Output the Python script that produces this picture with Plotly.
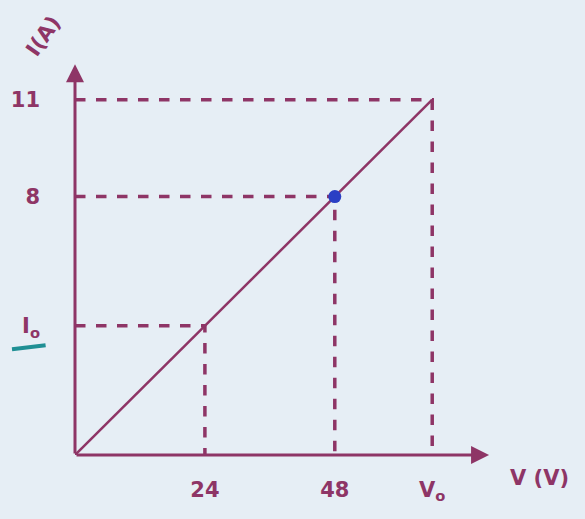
import plotly.graph_objects as go

# Linear I–V characteristic (ohmic conductor)
voltage = [0, 24, 48, 66]          # V
current = [0, 4, 8, 11]            # A
x_ticks = [24, 48, 66]
x_labels = ["<b>24</b>", "<b>48</b>", "<b>V<sub>o</sub></b>"]
y_ticks = [4, 8, 11]
y_labels = ["<b>I<sub>o</sub></b>", "<b>8</b>", "<b>11</b>"]
marked_v, marked_i = 48, 8

ink = "#8e3566"
bg = "#e6eef5"
font = dict(family="DejaVu Sans", size=21, color=ink)

fig = go.Figure()

# dashed guides from each labelled point to the axes
for v, i in zip(voltage[1:], current[1:]):
    fig.add_trace(go.Scatter(x=[0, v, v], y=[i, i, 0], mode="lines",
                             line=dict(color=ink, width=3.5, dash="dash"),
                             hoverinfo="skip", showlegend=False))

# the characteristic line
fig.add_trace(go.Scatter(x=voltage, y=current, mode="lines",
                         line=dict(color=ink, width=2.5),
                         showlegend=False))

# highlighted operating point
fig.add_trace(go.Scatter(x=[marked_v], y=[marked_i], mode="markers",
                         marker=dict(color="#2a3fc4", size=13),
                         showlegend=False))

x_end, y_end = 76.5, 12.1
# axes with arrowheads
fig.add_annotation(x=x_end, y=0, ax=0, ay=0, xref="x", yref="y",
                   axref="x", ayref="y", showarrow=True, arrowhead=2,
                   arrowsize=1.2, arrowwidth=3, arrowcolor=ink, text="")
fig.add_annotation(x=0, y=y_end, ax=0, ay=0, xref="x", yref="y",
                   axref="x", ayref="y", showarrow=True, arrowhead=2,
                   arrowsize=1.2, arrowwidth=3, arrowcolor=ink, text="")

# axis titles
fig.add_annotation(x=1.107, y=-0.058, xref="paper", yref="paper",
                   xanchor="center", yanchor="middle",
                   text="<b>V (V)</b>", showarrow=False, font=font)
fig.add_annotation(x=-0.075, y=1.06, xref="paper", yref="paper",
                   xanchor="center", yanchor="middle",
                   text="<b>I(A)</b>", showarrow=False, textangle=-55,
                   font=font)

# underline under the I_o label
fig.add_shape(type="line", x0=-0.15, x1=-0.07, y0=0.268, y1=0.278,
              xref="paper", yref="paper",
              line=dict(color="#1f8f94", width=4))

fig.update_layout(
    width=585, height=519,
    margin=dict(l=75, r=90, t=60, b=64),
    paper_bgcolor=bg, plot_bgcolor=bg,
    xaxis=dict(range=[0, 77.6], tickvals=x_ticks, ticktext=x_labels,
               showgrid=False, zeroline=False, showline=False,
               ticks="", tickfont=font, ticklabelstandoff=20),
    yaxis=dict(range=[0, 12.23], tickvals=y_ticks, ticktext=y_labels,
               showgrid=False, zeroline=False, showline=False,
               ticks="", tickfont=font, ticklabelstandoff=34),
)

fig.write_html("out.html")
